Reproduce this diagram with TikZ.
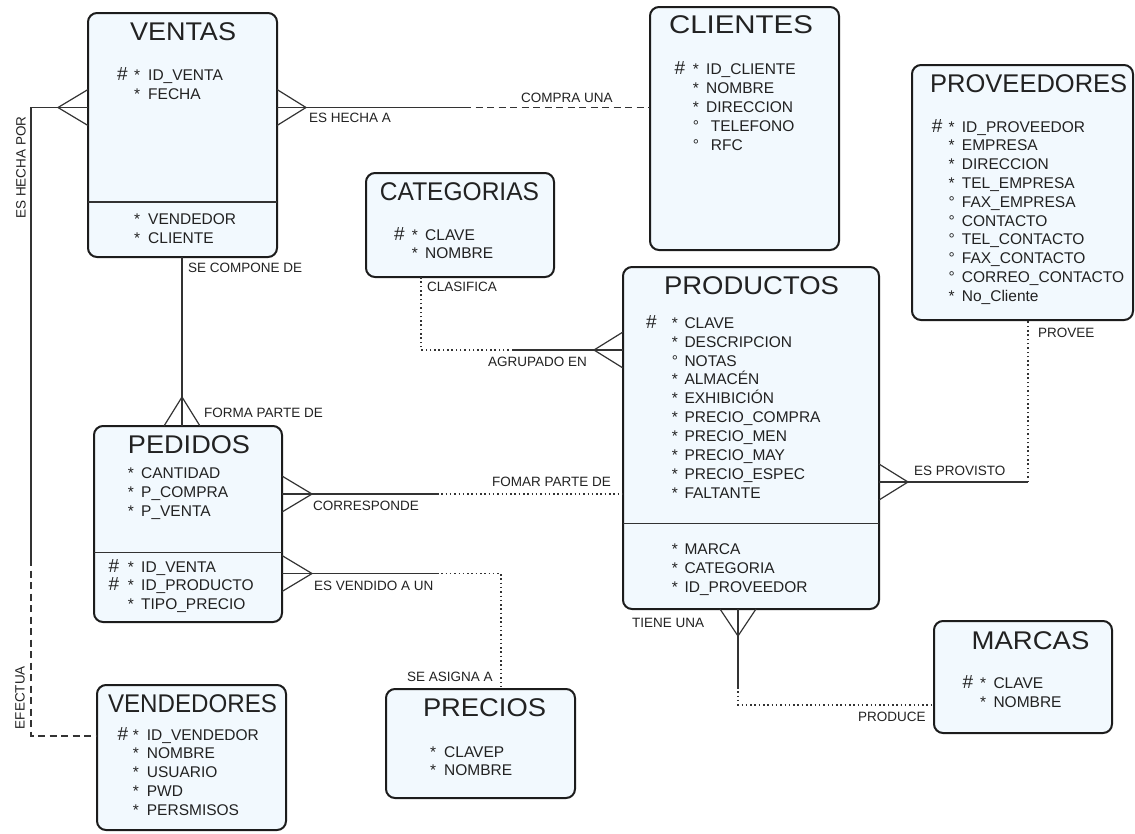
\documentclass[tikz,border=0pt]{standalone}
\usepackage{fontspec}
\setmainfont{Liberation Sans}
\usepackage{graphicx}
\usetikzlibrary{calc}

\definecolor{boxfill}{HTML}{F2F9FE}
\definecolor{boxline}{HTML}{1C1C1C}
\definecolor{inkcol}{HTML}{222222}
\definecolor{relcol}{HTML}{333333}

\def\nokey{-}

% crow's foot: three lines meeting at the tip, spread along the box edge
\newcommand\crowfoot[2]{%
  \draw[rel] ($(#1)!18pt!90:(#2)$) -- (#2) -- ($(#1)!18pt!-90:(#2)$);
  \draw[rel] (#1) -- (#2);}

% attribute column: name, x of key mark, x of bullet, x of text, first baseline, line step, rows
\newcommand\attrlist[7]{%
  \foreach \km/\bu/\tx [count=\k] in {#7} {
    \pgfmathsetmacro\yy{#5+#6*(\k-1)}
    \ifx\km\nokey\else
      \node[keymark] (#1-k\k) at (#2,\yy) {\km};
    \fi
    \node[attr] (#1-b\k) at (#3,\yy) {\bu};
    \node[attr] (#1-t\k) at (#4,\yy) {\tx};
  }}

\begin{document}
\begin{tikzpicture}[x=1pt,y=-1pt,
  entity/.style={draw=boxline, line width=2pt, fill=boxfill, rounded corners=9pt,
    inner sep=0pt, outer sep=0pt, anchor=north west},
  divider/.style={draw=relcol, line width=1.3pt},
  title/.style={inner sep=0pt, anchor=base, text=inkcol, font=\fontsize{25.6}{28}\selectfont},
  attr/.style={inner sep=0pt, anchor=base west, text=inkcol, font=\fontsize{15.5}{19}\selectfont},
  keymark/.style={inner sep=0pt, anchor=base west, text=inkcol, font=\fontsize{19}{19}\selectfont},
  lbl/.style={inner sep=0pt, anchor=base west, text=inkcol, font=\fontsize{13.5}{16}\selectfont},
  vlbl/.style={inner sep=0pt, rotate=90, text=inkcol, font=\fontsize{13.5}{16}\selectfont},
  rel/.style={draw=relcol, line width=1.2pt},
  optdash/.style={dash pattern=on 7pt off 4.5pt},
  optdot/.style={dash pattern=on 1.5pt off 2.8pt}
]
\fill[white] (0,0) rectangle (1135,833);
\useasboundingbox (0,0) rectangle (1135,833);

% ---------------- entities ----------------
\node[entity, minimum width=189pt, minimum height=244pt] (ventas) at (88,13) {};
\node[entity, minimum width=189pt, minimum height=243pt] (clientes) at (650,7) {};
\node[entity, minimum width=221pt, minimum height=255pt] (proveedores) at (912,65) {};
\node[entity, minimum width=188pt, minimum height=104pt] (categorias) at (366,173) {};
\node[entity, minimum width=256pt, minimum height=342pt] (productos) at (623,267) {};
\node[entity, minimum width=188pt, minimum height=196pt] (pedidos) at (94,426) {};
\node[entity, minimum width=189pt, minimum height=145pt] (vendedores) at (97,685) {};
\node[entity, minimum width=189pt, minimum height=109pt] (precios) at (386,689) {};
\node[entity, minimum width=178pt, minimum height=112pt] (marcas) at (934,621) {};

\draw[divider] (ventas.west |- 0,202) -- (ventas.east |- 0,202);
\draw[divider] (pedidos.west |- 0,552.3) -- (pedidos.east |- 0,552.3);
\draw[divider] (productos.west |- 0,523.3) -- (productos.east |- 0,523.3);

% ---------------- titles ----------------
\node[title] (ventasT) at (183,40) {\resizebox{106pt}{\height}{VENTAS}};
\node[title] (clientesT) at (741,33) {\resizebox{144pt}{\height}{CLIENTES}};
\node[title] (proveedoresT) at (1028.7,92) {\resizebox{197pt}{\height}{PROVEEDORES}};
\node[title] (categoriasT) at (459.5,200) {\resizebox{159pt}{\height}{CATEGORIAS}};
\node[title] (productosT) at (751.5,294) {\resizebox{175pt}{\height}{PRODUCTOS}};
\node[title] (pedidosT) at (189,453) {\resizebox{122pt}{\height}{PEDIDOS}};
\node[title] (vendedoresT) at (192.5,712) {\resizebox{169pt}{\height}{VENDEDORES}};
\node[title] (preciosT) at (484.5,716) {\resizebox{123pt}{\height}{PRECIOS}};
\node[title] (marcasT) at (1030.5,649) {\resizebox{117.7pt}{\height}{MARCAS}};

% ---------------- attributes ----------------
\attrlist{ventasA}{117}{134}{148}{80}{19}{\#/*/ID\_VENTA, -/*/FECHA}
\attrlist{ventasB}{117}{134}{148}{224.5}{19}{-/*/VENDEDOR, -/*/CLIENTE}
\attrlist{clientesA}{674.3}{692.7}{706}{74}{19}{\#/*/ID\_CLIENTE, -/*/NOMBRE, -/*/DIRECCION,
  -/°/\hspace{4.7pt}TELEFONO, -/°/\hspace{4.7pt}RFC}
\attrlist{proveedoresA}{931.7}{948.3}{961.7}{132}{18.8}{\#/*/ID\_PROVEEDOR, -/*/EMPRESA,
  -/*/DIRECCION, -/*/TEL\_EMPRESA, -/°/FAX\_EMPRESA, -/°/CONTACTO, -/°/TEL\_CONTACTO,
  -/°/FAX\_CONTACTO, -/°/CORREO\_CONTACTO, -/*/No\_Cliente}
\attrlist{categoriasA}{394}{411.7}{425}{240}{18.5}{\#/*/CLAVE, -/*/NOMBRE}
\attrlist{productosA}{646}{671.7}{684.3}{328.3}{18.86}{\#/*/CLAVE, -/*/DESCRIPCION, -/°/NOTAS,
  -/*/ALMACÉN, -/*/EXHIBICIÓN, -/*/PRECIO\_COMPRA, -/*/PRECIO\_MEN, -/*/PRECIO\_MAY,
  -/*/PRECIO\_ESPEC, -/*/FALTANTE}
\attrlist{productosB}{646}{671.7}{684.3}{554.7}{19.1}{-/*/MARCA, -/*/CATEGORIA, -/*/ID\_PROVEEDOR}
\attrlist{pedidosA}{108.3}{127.7}{141}{478.3}{19}{-/*/CANTIDAD, -/*/P\_COMPRA, -/*/P\_VENTA}
\attrlist{pedidosB}{108.3}{127.7}{141}{572.2}{18.75}{\#/*/ID\_VENTA, \#/*/ID\_PRODUCTO, -/*/TIPO\_PRECIO}
\attrlist{vendedoresA}{117.3}{132.7}{146.7}{740}{18.75}{\#/*/ID\_VENDEDOR, -/*/NOMBRE, -/*/USUARIO,
  -/*/PWD, -/*/PERSMISOS}
\attrlist{preciosA}{430}{430}{444}{757.2}{18.5}{-/*/CLAVEP, -/*/NOMBRE}
\attrlist{marcasA}{962.3}{980}{993.3}{688.7}{19}{\#/*/CLAVE, -/*/NOMBRE}

% ---------------- relationships ----------------
% VENTAS -- CLIENTES
\coordinate (vcEdge) at (ventas.east |- 0,107.5);
\coordinate (vcTip) at (306,107.5);
\coordinate (vcBreak) at (464,107.5);
\crowfoot{vcEdge}{vcTip}
\draw[rel] (vcTip) -- (vcBreak);
\draw[rel,optdash] (vcBreak) -- (clientes.west |- vcBreak);
\node[lbl] (lHechaA) at (309,122.3) {ES HECHA A};
\node[lbl] (lCompra) at (521,102.3) {COMPRA UNA};

% VENTAS -- VENDEDORES
\coordinate (vvEdge) at (ventas.west |- 0,107.5);
\coordinate (vvTip) at (58,107.5);
\coordinate (vvCorner) at (31,107.5);
\coordinate (vvBreak) at (31,559);
\coordinate (vvLow) at (31,736);
\crowfoot{vvEdge}{vvTip}
\draw[rel] (vvTip) -- (vvCorner) -- (vvBreak);
\draw[rel,optdash] (vvBreak) -- (vvLow) -- (vendedores.west |- vvLow);
\node[vlbl] (lHechaPor) at (21,167.5) {ES HECHA POR};
\node[vlbl] (lEfectua) at (20,697.5) {EFECTUA};

% VENTAS -- PEDIDOS
\coordinate (vpTip) at (182,397);
\coordinate (vpEdge) at (pedidos.north -| vpTip);
\draw[rel] (ventas.south -| vpTip) -- (vpTip);
\crowfoot{vpEdge}{vpTip}
\node[lbl] (lCompone) at (188,272.3) {SE COMPONE DE};
\node[lbl] (lFormaParte) at (204,417.1) {FORMA PARTE DE};

% PEDIDOS -- PRODUCTOS
\coordinate (ppEdge) at (pedidos.east |- 0,494);
\coordinate (ppTip) at (312,494);
\coordinate (ppBreak) at (437,494);
\crowfoot{ppEdge}{ppTip}
\draw[rel] (ppTip) -- (ppBreak);
\draw[rel,optdot] (ppBreak) -- (productos.west |- ppBreak);
\node[lbl] (lCorresponde) at (313,510.1) {CORRESPONDE};
\node[lbl] (lFomar) at (492,486.8) {FOMAR PARTE DE};

% PEDIDOS -- PRECIOS
\coordinate (prEdge) at (pedidos.east |- 0,573.5);
\coordinate (prTip) at (312,573.5);
\coordinate (prBreak) at (437,573.5);
\coordinate (prCorner) at (501,573.5);
\crowfoot{prEdge}{prTip}
\draw[rel] (prTip) -- (prBreak);
\draw[rel,optdot] (prBreak) -- (prCorner) -- (precios.north -| prCorner);
\node[lbl] (lVendido) at (314,590.5) {ES VENDIDO A UN};
\node[lbl] (lAsigna) at (407,681.5) {SE ASIGNA A};

% CATEGORIAS -- PRODUCTOS
\coordinate (cpEdge) at (productos.west |- 0,350);
\coordinate (cpTip) at (594,350);
\coordinate (cpBreak) at (513,350);
\coordinate (cpCorner) at (421,350);
\crowfoot{cpEdge}{cpTip}
\draw[rel] (cpTip) -- (cpBreak);
\draw[rel,optdot] (cpBreak) -- (cpCorner) -- (categorias.south -| cpCorner);
\node[lbl] (lClasifica) at (427,291.8) {CLASIFICA};
\node[lbl] (lAgrupado) at (488,366.8) {AGRUPADO EN};

% PRODUCTOS -- PROVEEDORES
\coordinate (pvEdge) at (productos.east |- 0,482);
\coordinate (pvTip) at (908,482);
\coordinate (pvCorner) at (1028,482);
\crowfoot{pvEdge}{pvTip}
\draw[rel] (pvTip) -- (pvCorner);
\draw[rel,optdot] (pvCorner) -- (proveedores.south -| pvCorner);
\node[lbl] (lProvisto) at (914,475.8) {ES PROVISTO};
\node[lbl] (lProvee) at (1038,337.8) {PROVEE};

% PRODUCTOS -- MARCAS
\coordinate (pmTip) at (738,636);
\coordinate (pmEdge) at (productos.south -| pmTip);
\coordinate (pmBreak) at (738,687);
\coordinate (pmCorner) at (738,705);
\crowfoot{pmEdge}{pmTip}
\draw[rel] (pmTip) -- (pmBreak);
\draw[rel,optdot] (pmBreak) -- (pmCorner) -- (marcas.west |- pmCorner);
\node[lbl] (lTiene) at (632,627.3) {TIENE UNA};
\node[lbl] (lProduce) at (858,721) {PRODUCE};
\end{tikzpicture}
\end{document}
